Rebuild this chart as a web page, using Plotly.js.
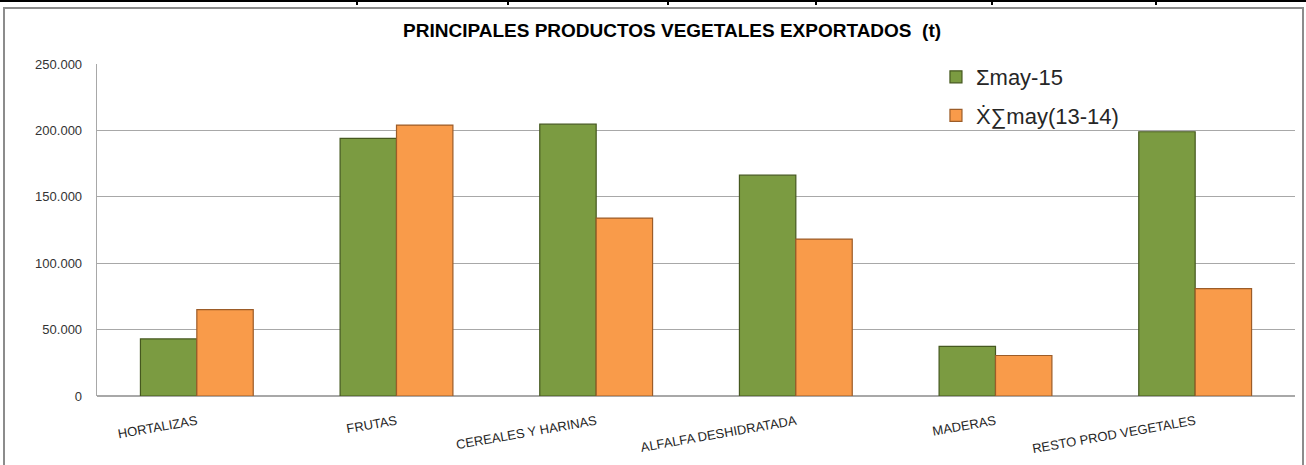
<!DOCTYPE html>
<html>
<head>
<meta charset="utf-8">
<script src="https://cdn.plot.ly/plotly-3.0.1.min.js"></script>
<style>
  html, body { margin: 0; padding: 0; background: #ffffff; }
  #wrap { position: relative; width: 1306px; height: 465px; overflow: hidden; background: #fff; }
  #chart { position: absolute; left: 0; top: 0; width: 1306px; height: 465px; }
  #topband { position: absolute; left: 0; top: 0; width: 1306px; height: 2px; background: #000; }
  .sep { position: absolute; top: 0; width: 2px; height: 5px; background: #000; }
  #frame { position: absolute; left: 3px; top: 7px; width: 1297px; height: 470px; border: 2px solid #8c8c8c; pointer-events: none; }
</style>
</head>
<body>
<div id="wrap">
  <div id="chart"></div>
  <div id="topband"></div>
  <div class="sep" style="left:356px"></div>
  <div class="sep" style="left:507px"></div>
  <div class="sep" style="left:667px"></div>
  <div class="sep" style="left:815px"></div>
  <div class="sep" style="left:991px"></div>
  <div class="sep" style="left:1155px"></div>
  <div id="frame"></div>
</div>
<script>
const categories = ["HORTALIZAS", "FRUTAS", "CEREALES Y HARINAS", "ALFALFA DESHIDRATADA", "MADERAS", "RESTO PROD VEGETALES"];
const seriesNames = ["Σmay-15", "Ẋ∑may(13-14)"];
const may15 = [43000, 194000, 204700, 166300, 37400, 199000];
const may1314 = [65000, 204000, 134000, 118200, 30500, 80800];
const yTickValues = [0, 50000, 100000, 150000, 200000, 250000];

const traces = [
  {
    type: "bar", name: seriesNames[0], x: categories, y: may15, legendgroup: "a",
    marker: { color: "#7b9b41", line: { color: "#45581f", width: 1.2 } },
    hoverinfo: "x+y"
  },
  {
    type: "bar", name: seriesNames[1], x: categories, y: may1314, legendgroup: "b",
    marker: { color: "#f99b4a", line: { color: "#9c5c28", width: 1.2 } },
    hoverinfo: "x+y"
  }
];

const layout = {
  width: 1306, height: 465,
  paper_bgcolor: "rgba(0,0,0,0)", plot_bgcolor: "rgba(0,0,0,0)",
  margin: { l: 97, r: 11, t: 63.5, b: 68.5 },
  separators: ",.",
  barmode: "group", bargap: 0.435, bargroupgap: 0,
  title: {
    text: "<b>PRINCIPALES PRODUCTOS VEGETALES EXPORTADOS  (t)</b>",
    font: { family: "Liberation Sans, Arial, sans-serif", size: 19, color: "#000" },
    xref: "container", yref: "container", x: 0.5146, y: 0.935, xanchor: "center", yanchor: "middle"
  },
  font: { family: "Liberation Sans, Arial, sans-serif", color: "#333" },
  xaxis: {
    type: "category",
    tickangle: -10,
    tickfont: { size: 13, color: "#262626" },
    ticks: "outside", ticklen: 12, tickcolor: "rgba(0,0,0,0)",
    showline: false, showgrid: false, zeroline: false
  },
  yaxis: {
    range: [0, 250000],
    tickvals: yTickValues,
    tickformat: ",d",
    tickfont: { size: 13, color: "#333" },
    ticks: "outside", ticklen: 11, tickcolor: "rgba(0,0,0,0)",
    showgrid: true, gridcolor: "#a8a8a8", gridwidth: 1.3,
    showline: true, linecolor: "#a8a8a8", linewidth: 1.3,
    zeroline: true, zerolinecolor: "#a8a8a8", zerolinewidth: 1.3
  },
  showlegend: true,
  legend: {
    x: 0.7003, y: 1.024, xanchor: "left", yanchor: "top",
    bgcolor: "rgba(0,0,0,0)",
    font: { family: "Liberation Sans, Arial, sans-serif", size: 22, color: "#262626" },
    traceorder: "grouped", tracegroupgap: 7,
    itemwidth: 30
  }
};

Plotly.newPlot("chart", traces, layout, { displayModeBar: false, staticPlot: true });
</script>
</body>
</html>
